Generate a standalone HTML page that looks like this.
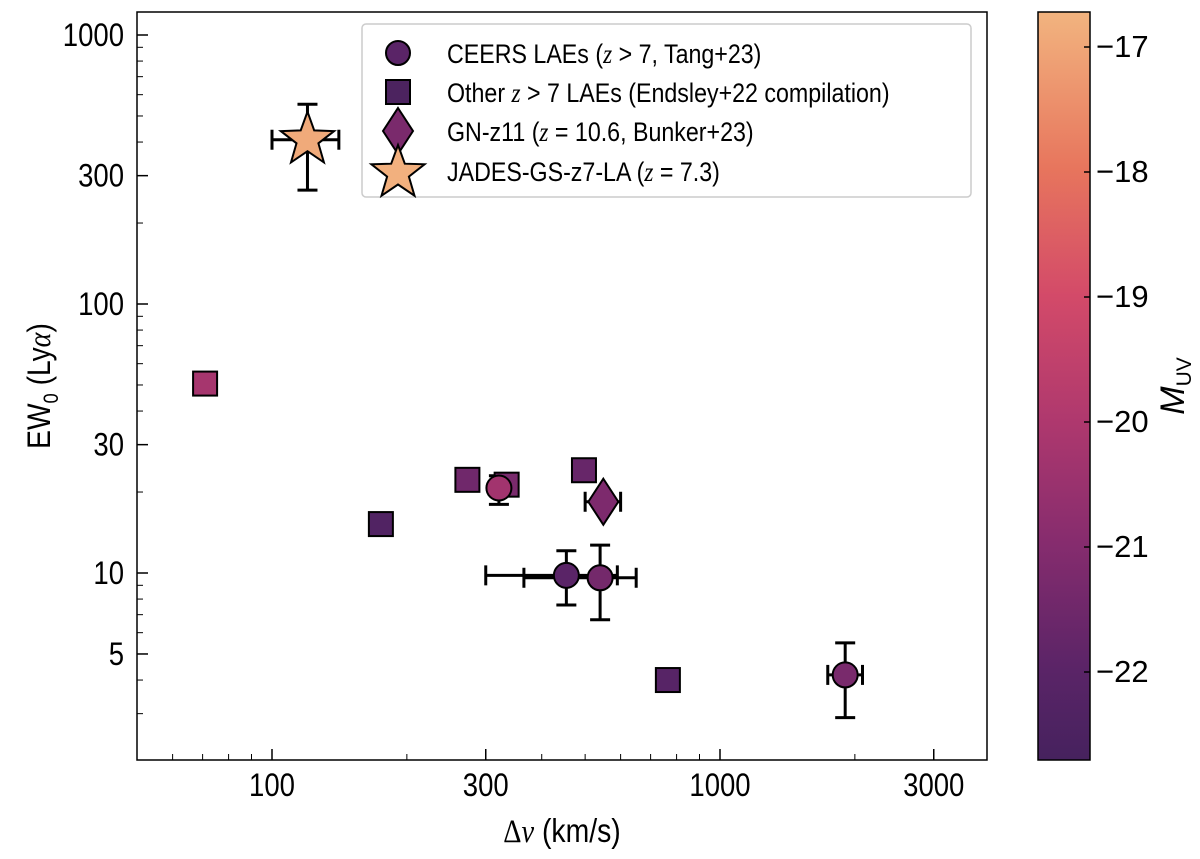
<!DOCTYPE html>
<html><head><meta charset="utf-8"><style>
body{margin:0;background:#fff}
svg text{font-family:"Liberation Sans",sans-serif}
</style></head><body>
<svg id="chart" width="1200" height="854" xmlns="http://www.w3.org/2000/svg">
<defs><linearGradient id="cm" x1="0" y1="1" x2="0" y2="0">
<stop offset="0" stop-color="#46225e"/><stop offset="0.12" stop-color="#5a2467"/><stop offset="0.29" stop-color="#862c6e"/><stop offset="0.45" stop-color="#ae386e"/><stop offset="0.62" stop-color="#d34a69"/><stop offset="0.79" stop-color="#e7755d"/><stop offset="1" stop-color="#f2b47f"/></linearGradient></defs>
<g id="plot"></g>
</svg>
<script>
const ceersV=[321,454,540,1903], ceersEW=[20.7,9.8,9.6,4.18], ceersM=[-20.3,-22.0,-21.4,-21.3];
const ceersXlo=[321,300,365,1740], ceersXhi=[321,590,650,2080], ceersYlo=[18.0,7.6,6.7,2.9], ceersYhi=[23.0,12.1,12.7,5.5];
const otherV=[70.9,175,273,334,497,765], otherEW=[50.6,15.2,22.2,21.3,24.1,4.0], otherM=[-20.2,-22.3,-21.5,-21.3,-21.7,-22.1];
const gnV=[549], gnEW=[18.4], gnM=[-21.2], gnXlo=[500], gnXhi=[600];
const starV=[120], starEW=[408], starM=[-16.9], starXlo=[100], starXhi=[141], starYlo=[265], starYhi=[553];
const xTicks=[100,300,1000,3000], yTicks=[5,10,30,100,300,1000], cTicks=[-17,-18,-19,-20,-21,-22];
const NS="http://www.w3.org/2000/svg", g=document.getElementById('plot');
const X=v=>272+(Math.log10(v)-2)*448, Y=e=>35+(3-Math.log10(e))*269, CY=m=>672-(m+22)*125;
const stops=[[-22.7,[70,34,94]],[-22,[90,36,103]],[-21,[134,44,110]],[-20,[174,56,110]],[-19,[211,74,105]],[-18,[231,117,93]],[-16.7,[242,180,127]]];
function col(m){for(let i=0;i<stops.length-1;i++){const[a,c1]=stops[i],[b,c2]=stops[i+1];if(m<=b||i==stops.length-2){const t=Math.max(0,Math.min(1,(m-a)/(b-a)));return 'rgb('+c1.map((c,k)=>Math.round(c+(c2[k]-c)*t)).join(',')+')';}}}
function el(t,a,p){const e=document.createElementNS(NS,t);for(const k in a)e.setAttribute(k,a[k]);(p||g).appendChild(e);return e;}
function txt(x,y,size,anchor,p,extra){const a={x:0,y:0,'font-size':size,'text-anchor':anchor,transform:`translate(${x},${y}) scale(0.86,1)`};Object.assign(a,extra||{});return el('text',a,p);}
const frame=el('rect',{x:137,y:12,width:850,height:748,fill:'none',stroke:'#000','stroke-width':1.5});


[60,70,80,90,200,400,500,600,700,800,900,2000].forEach(v=>{const t=el('line',{x1:X(v),x2:X(v),y1:760,y2:754,stroke:'#000','stroke-width':1});

});
[3,4,6,7,8,9,20,40,50,60,70,80,90,200,400,500,600,700,800,900].forEach(v=>{if(Y(v)>12&&Y(v)<760){const t=el('line',{x1:137,x2:143,y1:Y(v),y2:Y(v),stroke:'#000','stroke-width':1});

}});
xTicks.forEach(v=>{const t=el('line',{x1:X(v),x2:X(v),y1:760,y2:749,stroke:'#000','stroke-width':1.5});


const l=txt(X(v),796,32,'middle');l.textContent=v;

});
yTicks.forEach(v=>{const t=el('line',{x1:137,x2:148,y1:Y(v),y2:Y(v),stroke:'#000','stroke-width':1.5});


const l=txt(124,Y(v)+11,32,'end');l.textContent=v;

});
const xt=txt(562,842,33,'middle');xt.innerHTML='<tspan font-family="Liberation Serif">Δ</tspan><tspan font-family="Liberation Serif" font-style="italic">v</tspan> (km/s)';


const yt=el('text',{x:0,y:0,'font-size':32,'text-anchor':'middle',transform:'translate(50,386) rotate(-90) scale(0.88,1)'});yt.innerHTML='EW<tspan font-size="21" dy="8">0</tspan><tspan dy="-8"> (Ly</tspan><tspan font-family="Liberation Serif" font-style="italic">α</tspan>)';


function errbar(x1,y1,x2,y2,horiz){const l=el('line',{x1,y1,x2,y2,stroke:'#000','stroke-width':3});


[[x1,y1],[x2,y2]].forEach(([a,b])=>{const c=horiz?el('line',{x1:a,x2:a,y1:b-10,y2:b+10,stroke:'#000','stroke-width':3}):el('line',{x1:a-10,x2:a+10,y1:b,y2:b,stroke:'#000','stroke-width':3});

});}
function starPts(cx,cy,R,r){let p=[];for(let i=0;i<10;i++){const a=-Math.PI/2+i*Math.PI/5,rr=i%2?r:R;p.push((cx+rr*Math.cos(a)).toFixed(1)+','+(cy+rr*Math.sin(a)).toFixed(1));}return p.join(' ');}
ceersV.forEach((v,i)=>{if(ceersXlo[i]!=ceersXhi[i])errbar(X(ceersXlo[i]),Y(ceersEW[i]),X(ceersXhi[i]),Y(ceersEW[i]),true);errbar(X(v),Y(ceersYlo[i]),X(v),Y(ceersYhi[i]),false);});
gnV.forEach((v,i)=>errbar(X(gnXlo[i]),Y(gnEW[i]),X(gnXhi[i]),Y(gnEW[i]),true));
starV.forEach((v,i)=>{errbar(X(starXlo[i]),Y(starEW[i]),X(starXhi[i]),Y(starEW[i]),true);errbar(X(v),Y(starYlo[i]),X(v),Y(starYhi[i]),false);});
otherV.forEach((v,i)=>{const s=el('rect',{x:X(v)-12,y:Y(otherEW[i])-12,width:24,height:24,fill:col(otherM[i]),stroke:'#000','stroke-width':2});

});
ceersV.forEach((v,i)=>{const c=el('circle',{cx:X(v),cy:Y(ceersEW[i]),r:12.5,fill:col(ceersM[i]),stroke:'#000','stroke-width':2});

});
gnV.forEach((v,i)=>{const x=X(v),y=Y(gnEW[i]);const d=el('polygon',{points:`${x},${y-23} ${x+15},${y} ${x},${y+23} ${x-15},${y}`,fill:col(gnM[i]),stroke:'#000','stroke-width':2});

});
starV.forEach((v,i)=>{const s=el('polygon',{points:starPts(X(v),Y(starEW[i]),28,11.5),fill:col(starM[i]),stroke:'#000','stroke-width':2});

});
const lg=el('g',{});

el('rect',{x:362,y:24,width:609,height:173,rx:4,fill:'#fff',stroke:'#ccc','stroke-width':1.5},lg);
const zi='<tspan font-family="Liberation Serif" font-style="italic">z</tspan>';
const li=[[`CEERS LAEs (${zi} &gt; 7, Tang+23)`,53],[`Other ${zi} &gt; 7 LAEs (Endsley+22 compilation)`,92],[`GN-z11 (${zi} = 10.6, Bunker+23)`,131],[`JADES-GS-z7-LA (${zi} = 7.3)`,171]];
el('circle',{cx:398,cy:53,r:12,fill:'#5a2467',stroke:'#000','stroke-width':2},lg);
el('rect',{x:386,y:80,width:24,height:24,fill:'#4c235f',stroke:'#000','stroke-width':2},lg);
el('polygon',{points:'398,108 413,131 398,154 383,131',fill:'#7a2a6c',stroke:'#000','stroke-width':2},lg);
el('polygon',{points:starPts(398,173,28,11.5),fill:'#f2b07e',stroke:'#000','stroke-width':2},lg);
li.forEach(([t,y])=>{const e=txt(447,y+10,27,'start',lg);e.innerHTML=t;

});
const cb=el('rect',{x:1038,y:12,width:52,height:748,fill:'url(#cm)',stroke:'#000','stroke-width':1.5});


cTicks.forEach(m=>{const t=el('line',{x1:1084,x2:1090,y1:CY(m),y2:CY(m),stroke:'#000','stroke-width':1.5});


const l=el('text',{x:1096,y:CY(m)+10,'font-size':31,'font-family':'Liberation Serif'});l.textContent='−'+(-m);

});
const ct=el('text',{x:0,y:0,'font-size':34,'text-anchor':'middle','font-family':'Liberation Serif',transform:'translate(1184,386) rotate(-90)'});ct.innerHTML='<tspan font-style="italic">M</tspan><tspan font-size="21" dy="7">UV</tspan>';


</script>
</body></html>
